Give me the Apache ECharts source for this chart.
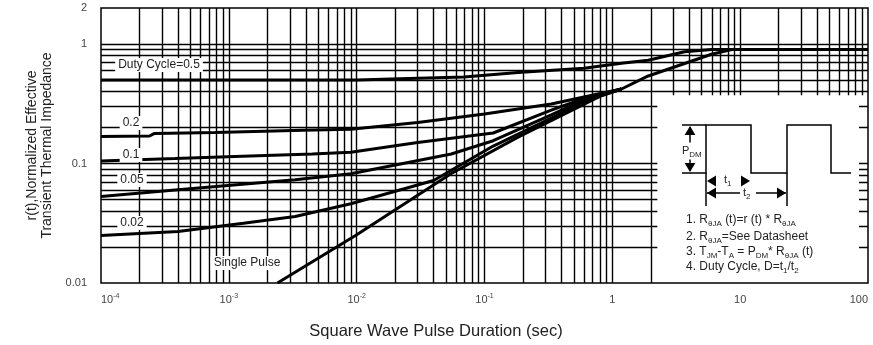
<!DOCTYPE html>
<html>
<head>
<meta charset="utf-8">
<script src="https://cdn.jsdelivr.net/npm/echarts@6/dist/echarts.min.js"></script>
<style>
  html, body { margin: 0; padding: 0; background: #fff; }
  #main { width: 873px; height: 345px; }
</style>
</head>
<body>
<div id="main"></div>
<script>
// axis ticks
const xTicks = [1e-4, 1e-3, 1e-2, 1e-1, 1, 10, 100];
const yTicks = [0.01, 0.1, 1, 2];

// curves: [pulse duration (s), r(t)]
const duty05 = [[1e-4, 0.50], [1e-3, 0.50], [0.01, 0.50], [0.0185, 0.51], [0.069, 0.53], [0.183, 0.577], [0.6, 0.627], [1.18, 0.69], [1.91, 0.73], [3.67, 0.86], [6, 0.9], [100, 0.9]];
const duty02 = [[1e-4, 0.168], [2.4e-4, 0.17], [2.6e-4, 0.178], [7.8e-4, 0.182], [3.8e-3, 0.19], [0.009, 0.193], [0.03, 0.22], [0.1, 0.26], [0.333, 0.315], [0.6, 0.36], [1.18, 0.42]];
const duty01 = [[1e-4, 0.105], [3.8e-4, 0.11], [1.28e-3, 0.115], [4.5e-3, 0.12], [0.009, 0.124], [0.03, 0.15], [0.117, 0.18], [0.333, 0.28], [0.6, 0.35], [1.18, 0.42]];
const duty005 = [[1e-4, 0.053], [3.8e-4, 0.06], [1.28e-3, 0.067], [3.3e-3, 0.073], [0.009, 0.082], [0.055, 0.12], [0.117, 0.155], [0.333, 0.255], [0.6, 0.34], [1.18, 0.42]];
const duty002 = [[1e-4, 0.025], [4e-4, 0.027], [1.3e-3, 0.0316], [3.3e-3, 0.036], [0.009, 0.046], [0.04, 0.072], [0.117, 0.14], [0.333, 0.24], [0.6, 0.33], [1.18, 0.42]];
const singlePulse = [[0.0024, 0.01], [0.0098, 0.025], [0.0546, 0.082], [0.183, 0.166], [0.82, 0.37], [1.18, 0.42], [1.91, 0.54], [5.97, 0.82], [8.6, 0.9], [100, 0.9]];

const curveNames = ['Duty Cycle=0.5', '0.2', '0.1', '0.05', '0.02', 'Single Pulse'];
const curves = [duty05, duty02, duty01, duty005, duty002, singlePulse];

const FONT = "'Liberation Sans', Arial, sans-serif";

// log grid, left out inside the notes box (x > 2, y < 0.4)
const xCut = 2, yCut = 0.4;
const gridLines = [];
for (let d = 1e-4; d < 50; d *= 10) {
  for (let m = 1; m < 10; m++) {
    const x = m * d;
    if (m === 1 && d < 2e-4) continue;
    const y0 = x > xCut * 1.01 ? yCut * 0.93 : 0.01;
    gridLines.push({ coords: [[x, y0], [x, 2]] });
  }
}
for (let d = 0.01; d < 2; d *= 10) {
  for (let m = 1; m < 10; m++) {
    const y = m * d;
    if (y > 1.01 || (m === 1 && d < 0.02)) continue;
    if (y < yCut * 0.99) {
      gridLines.push({ coords: [[1e-4, y], [2.25, y]] });
      gridLines.push({ coords: [[85, y], [100, y]] });
    } else {
      gridLines.push({ coords: [[1e-4, y], [100, y]] });
    }
  }
}

const chart = echarts.init(document.getElementById('main'));

const series = [{
  type: 'lines',
  coordinateSystem: 'cartesian2d',
  polyline: false,
  silent: true,
  z: 1,
  lineStyle: { color: '#000', width: 1.4, opacity: 1 },
  data: gridLines
}].concat(curves.map((d, i) => ({
  name: curveNames[i],
  type: 'line',
  data: d,
  showSymbol: false,
  silent: true,
  z: 3,
  lineStyle: { color: '#000', width: 3 }
})));

function tri(x, y, dir, s) {
  // small filled arrow head, tip at (x, y)
  const pts = {
    up: [[x, y], [x - s * 0.6, y + s], [x + s * 0.6, y + s]],
    down: [[x, y], [x - s * 0.6, y - s], [x + s * 0.6, y - s]],
    left: [[x, y], [x + s, y - s * 0.6], [x + s, y + s * 0.6]],
    right: [[x, y], [x - s, y - s * 0.6], [x - s, y + s * 0.6]]
  }[dir];
  return { type: 'polygon', z: 20, shape: { points: pts }, style: { fill: '#000' } };
}
function seg(x1, y1, x2, y2) {
  return { type: 'line', z: 20, shape: { x1, y1, x2, y2 }, style: { stroke: '#000', lineWidth: 1.5 } };
}
const subRich = { sub: { fontSize: 8, verticalAlign: 'bottom', lineHeight: 15, fontFamily: FONT } };
function note(text, x, y, size, bg) {
  return {
    type: 'text', z: 21,
    style: {
      text, x, y, font: (size || 12) + 'px ' + FONT, fill: '#222', verticalAlign: 'middle', lineHeight: 15, rich: subRich,
      backgroundColor: bg || null, padding: bg ? [1, 0] : 0
    }
  };
}
function curveLabel(text, x, y) {
  return {
    type: 'text', z: 20,
    style: { text, x, y, align: 'center', verticalAlign: 'middle', font: '12px ' + FONT, fill: '#222', backgroundColor: '#fff', padding: [1, 3] }
  };
}

const graphic = [
  curveLabel(curveNames[0], 159, 65),
  curveLabel(curveNames[1], 131, 123),
  curveLabel(curveNames[2], 131, 155),
  curveLabel(curveNames[3], 132, 180),
  curveLabel(curveNames[4], 132, 223),
  curveLabel(curveNames[5], 247, 263),
  // pulse train
  { type: 'polyline', z: 20, shape: { points: [[682, 173], [706, 173], [706, 125], [751, 125], [751, 173], [787, 173], [787, 125], [831, 125], [831, 173], [851, 173]] }, style: { stroke: '#000', lineWidth: 1.5, fill: null } },
  seg(682, 125, 706, 125),
  seg(690, 127, 690, 171),
  tri(690, 126, 'up', 9),
  tri(690, 172, 'down', 9),
  note('P{sub|DM}', 682, 151, 11, '#fff'),
  seg(706, 173, 706, 206),
  seg(787, 173, 787, 206),
  tri(707, 181, 'left', 9),
  tri(750, 181, 'right', 9),
  note('t{sub|1}', 724, 180, 11),
  seg(707, 193, 740, 193),
  seg(756, 193, 786, 193),
  tri(707, 193, 'left', 9),
  tri(786, 193, 'right', 9),
  note('t{sub|2}', 743, 193, 11),
  note('1. R{sub|θJA} (t)=r (t) * R{sub|θJA}', 686, 220),
  note('2. R{sub|θJA}=See Datasheet', 686, 237),
  note('3. T{sub|JM}-T{sub|A} = P{sub|DM}* R{sub|θJA} (t)', 686, 252),
  note('4. Duty Cycle, D=t{sub|1}/t{sub|2}', 686, 267),
  // x axis title
  {
    type: 'text', z: 20,
    style: { text: 'Square Wave Pulse Duration (sec)', x: 436, y: 331, align: 'center', verticalAlign: 'middle', font: '16.5px ' + FONT, fill: '#222' }
  }
];

const option = {
  animation: false,
  backgroundColor: '#fff',
  grid: {
    left: 101, right: 5, top: 8, bottom: 62,
    outerBoundsMode: 'none',
    show: true, borderColor: '#000', borderWidth: 1.5, backgroundColor: '#fff'
  },
  xAxis: {
    type: 'log',
    logBase: 10,
    min: 1e-4,
    max: 100,
    axisLine: { show: false },
    axisTick: { show: false },
    splitLine: { show: false },
    axisLabel: {
      customValues: xTicks,
      margin: 10,
      color: '#444',
      fontSize: 11,
      fontFamily: FONT,
      lineHeight: 14,
      alignMinLabel: 'left',
      alignMaxLabel: 'right',
      formatter: v => {
        const e = Math.round(Math.log10(v));
        return e < 0 ? '10{sup|' + e + '}' : String(Math.round(v));
      },
      rich: { sup: { fontSize: 7, verticalAlign: 'top', lineHeight: 14, color: '#444', fontFamily: FONT } }
    }
  },
  yAxis: {
    type: 'log',
    logBase: 10,
    min: 0.01,
    max: 2,
    name: 'r(t),Normalized Effective\nTransient Thermal Impedance',
    nameLocation: 'middle',
    nameGap: 46,
    nameTextStyle: { fontSize: 14, lineHeight: 15, color: '#222', fontFamily: FONT },
    axisLine: { show: false },
    axisTick: { show: false },
    splitLine: { show: false },
    axisLabel: {
      customValues: yTicks,
      margin: 14,
      color: '#444',
      fontSize: 11,
      fontFamily: FONT,
      formatter: v => String(+v.toPrecision(2))
    }
  },
  series: series,
  graphic: graphic
};

chart.setOption(option);
</script>
</body>
</html>
